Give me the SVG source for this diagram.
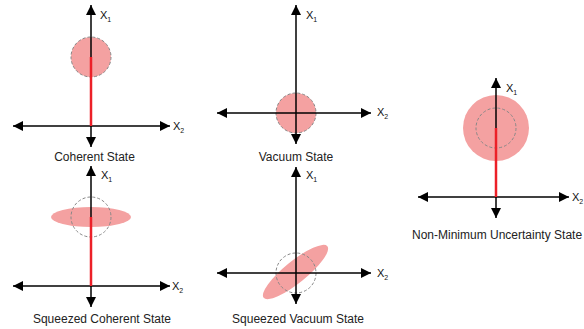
<svg xmlns="http://www.w3.org/2000/svg" width="584" height="329" viewBox="0 0 584 329">
<defs>
<marker id="ah" viewBox="0 0 10 10" refX="10" refY="5" markerWidth="10" markerHeight="10" markerUnits="userSpaceOnUse" orient="auto-start-reverse">
<path d="M0,0 L10,5 L0,10 z" fill="#000"/>
</marker>
<style>
.ax{stroke:#000;stroke-width:1.5;fill:none;marker-start:url(#ah);marker-end:url(#ah)}
.blob{fill:#f4a1a1;stroke:none}
.dash{fill:none;stroke:#888;stroke-width:1;stroke-dasharray:3,2}
.red{stroke:#ec2028;stroke-width:2.5}
.lbl{font-family:"Liberation Sans",Arial,sans-serif;font-size:12px;fill:#222}
.x{font-family:"Liberation Sans",Arial,sans-serif;font-size:11px;fill:#111}
.s{font-size:7px}
</style>
</defs>
<rect width="584" height="329" fill="#fff"/>

<g id="coherent">
<circle class="blob" cx="91" cy="57" r="20"/>
<circle class="dash" cx="91" cy="57" r="20"/>
<line class="ax" x1="91" y1="147" x2="91" y2="5"/>
<line class="ax" x1="13" y1="126" x2="170" y2="126"/>
<line class="red" x1="91" y1="57" x2="91" y2="126"/>
<text class="x" x="100" y="18.5">X<tspan class="s" dy="3">1</tspan></text>
<text class="x" x="173" y="129.5">X<tspan class="s" dy="3">2</tspan></text>
<text class="lbl" x="94.5" y="161" text-anchor="middle">Coherent State</text>
</g>

<g id="vacuum">
<circle class="blob" cx="296" cy="113" r="20"/>
<circle class="dash" cx="296" cy="113" r="20"/>
<line class="ax" x1="296" y1="144" x2="296" y2="5"/>
<line class="ax" x1="217" y1="113" x2="371" y2="113"/>
<text class="x" x="306" y="18.5">X<tspan class="s" dy="3">1</tspan></text>
<text class="x" x="377" y="116">X<tspan class="s" dy="3">2</tspan></text>
<text class="lbl" x="296" y="161" text-anchor="middle">Vacuum State</text>
</g>

<g id="squeezed-coherent">
<ellipse class="blob" cx="91" cy="217" rx="40" ry="10"/>
<circle class="dash" cx="91" cy="217" r="20"/>
<line class="ax" x1="91" y1="307" x2="91" y2="166"/>
<line class="ax" x1="13" y1="286" x2="170" y2="286"/>
<line class="red" x1="91" y1="217" x2="91" y2="286"/>
<text class="x" x="101" y="178.5">X<tspan class="s" dy="3">1</tspan></text>
<text class="x" x="172" y="290">X<tspan class="s" dy="3">2</tspan></text>
<text class="lbl" x="102" y="323" text-anchor="middle">Squeezed Coherent State</text>
</g>

<g id="squeezed-vacuum">
<ellipse class="blob" cx="295.5" cy="272" rx="41" ry="11" transform="rotate(-39 295.5 272)"/>
<circle class="dash" cx="296" cy="273" r="20"/>
<line class="ax" x1="296" y1="304" x2="296" y2="167"/>
<line class="ax" x1="217" y1="273" x2="371" y2="273"/>
<text class="x" x="306" y="178.5">X<tspan class="s" dy="3">1</tspan></text>
<text class="x" x="377" y="277">X<tspan class="s" dy="3">2</tspan></text>
<text class="lbl" x="298" y="323" text-anchor="middle">Squeezed Vacuum State</text>
</g>

<g id="non-minimum">
<circle class="blob" cx="496" cy="128" r="33"/>
<circle class="dash" cx="496" cy="128" r="20"/>
<line class="ax" x1="496" y1="218" x2="496" y2="78"/>
<line class="ax" x1="418" y1="197" x2="569" y2="197"/>
<line class="red" x1="496" y1="128" x2="496" y2="197"/>
<text class="x" x="506" y="91.5">X<tspan class="s" dy="3">1</tspan></text>
<text class="x" x="572" y="201">X<tspan class="s" dy="3">2</tspan></text>
<text class="lbl" x="412" y="239">Non-Minimum Uncertainty State</text>
</g>
</svg>
